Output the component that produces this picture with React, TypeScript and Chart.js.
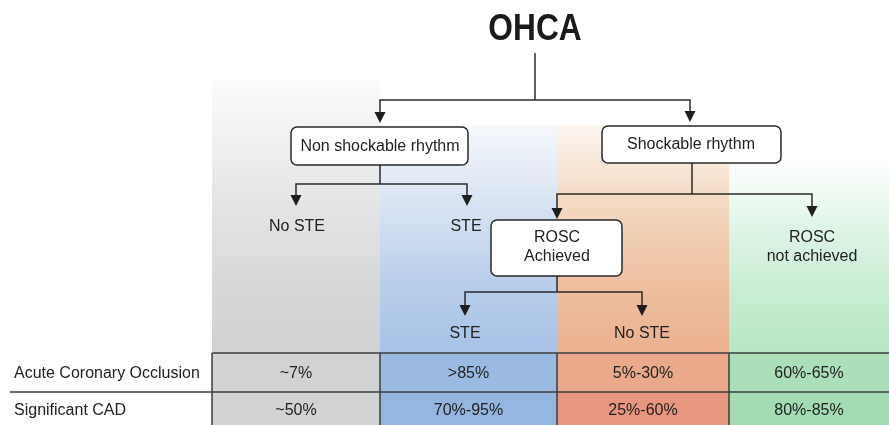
import React, { useEffect, useRef } from "react";
import { Chart, registerables } from "chart.js";
Chart.register(...registerables);

const title = "OHCA";
const rhythmLabels = ["Non shockable rhythm", "Shockable rhythm"];
const nonShockOutcomes = ["No STE", "STE"];
const shockOutcomes = ["ROSC\nAchieved", "ROSC\nnot achieved"];
const roscOutcomes = ["STE", "No STE"];
const rowLabels = ["Acute Coronary Occlusion", "Significant CAD"];
const acoValues = ["~7%", ">85%", "5%-30%", "60%-65%"];
const cadValues = ["~50%", "70%-95%", "25%-60%", "80%-85%"];

const FONT = "'Liberation Sans', Arial, Helvetica, sans-serif";
const INK = "#222222";
const FS = 16;

export default function App() {
  const ref = useRef<HTMLCanvasElement | null>(null);
  useEffect(() => {
    document.body.style.margin = "0";
    const canvas = ref.current!;
    const plugin = {
      id: "flow",
      beforeDatasetsDraw(chart: any) {
        const ctx: CanvasRenderingContext2D = chart.ctx;
        const xs = chart.scales.x;
        const ys = chart.scales.y;
        const X = (v: number) => xs.getPixelForValue(v);
        const Y = (v: number) => ys.getPixelForValue(v);

        const edges = [212, 380, 557, 729, 889];
        const cols = [
          { top: 80, stops: [[0, "#fbfbfb"], [0.45, "#e4e5e6"], [0.8, "#d4d5d7"], [1, "#d1d2d4"]], cells: ["#d1d2d4", "#d1d2d4"] },
          { top: 125, stops: [[0, "#f6f8fc"], [0.3, "#dce6f4"], [0.7, "#b9ceeb"], [1, "#a7c2e6"]], cells: ["#9bbae2", "#94b5e0"] },
          { top: 125, stops: [[0, "#fcf6f0"], [0.3, "#f4dcc6"], [0.7, "#eebf9f"], [1, "#ebb190"]], cells: ["#e9a98a", "#e8967f"] },
          { top: 158, stops: [[0, "#ffffff"], [0.35, "#e0f5e7"], [0.75, "#c3ebce"], [1, "#b7e6c4"]], cells: ["#aadfba", "#a3dcb3"] },
        ];
        const tableTop = 353, rowMid = 392, tableBottom = 425;
        cols.forEach((c, i) => {
          const x0 = X(edges[i]), x1 = X(edges[i + 1]);
          const g = ctx.createLinearGradient(0, Y(c.top), 0, Y(tableTop));
          c.stops.forEach((s) => g.addColorStop(s[0] as number, s[1] as string));
          ctx.fillStyle = g;
          ctx.fillRect(x0, Y(c.top), x1 - x0, Y(tableTop) - Y(c.top));
          ctx.fillStyle = c.cells[0];
          ctx.fillRect(x0, Y(tableTop), x1 - x0, Y(rowMid) - Y(tableTop));
          ctx.fillStyle = c.cells[1];
          ctx.fillRect(x0, Y(rowMid), x1 - x0, Y(tableBottom) - Y(rowMid));
        });

        ctx.strokeStyle = "#3c3c3c";
        ctx.lineWidth = 1.5;
        const line = (pts: number[][]) => {
          ctx.beginPath();
          ctx.moveTo(X(pts[0][0]), Y(pts[0][1]));
          for (let k = 1; k < pts.length; k++) ctx.lineTo(X(pts[k][0]), Y(pts[k][1]));
          ctx.stroke();
        };
        line([[212, tableTop], [889, tableTop]]);
        line([[10, rowMid], [889, rowMid]]);
        edges.slice(0, 4).forEach((e) => line([[e, tableTop], [e, tableBottom]]));

        const text = (s: string, x: number, y: number, size: number, align: CanvasTextAlign = "center") => {
          ctx.fillStyle = INK;
          ctx.font = `${size}px ${FONT}`;
          ctx.textAlign = align;
          ctx.textBaseline = "middle";
          ctx.fillText(s, X(x), Y(y));
        };

        rowLabels.forEach((l, r) => text(l, 14, r === 0 ? 374 : 411, FS, "left"));
        acoValues.forEach((v, i) => text(v, (edges[i] + edges[i + 1]) / 2, 374, FS));
        cadValues.forEach((v, i) => text(v, (edges[i] + edges[i + 1]) / 2, 411, FS));

        ctx.strokeStyle = "#2a2a2a";
        ctx.lineWidth = 1.5;
        const arrow = (x: number, tip: number) => {
          ctx.fillStyle = "#1e1e1e";
          ctx.beginPath();
          ctx.moveTo(X(x - 5.5), Y(tip - 11));
          ctx.lineTo(X(x + 5.5), Y(tip - 11));
          ctx.lineTo(X(x), Y(tip));
          ctx.closePath();
          ctx.fill();
        };
        const branch = (xc: number, y0: number, yh: number, xl: number, xr: number, tipL: number, tipR: number) => {
          line([[xc, y0], [xc, yh]]);
          line([[xl, tipL - 10], [xl, yh], [xr, yh], [xr, tipR - 10]]);
          arrow(xl, tipL);
          arrow(xr, tipR);
        };
        branch(535, 53, 100, 380, 690, 123, 122);
        branch(380, 165, 184, 296, 467, 206, 206);
        branch(692, 163, 194, 557, 812, 219, 217);
        branch(557, 276, 292, 465, 642, 316, 316);

        const box = (x0: number, y0: number, x1: number, y1: number) => {
          const r = 6;
          const a = X(x0), b = Y(y0), c = X(x1), d = Y(y1);
          ctx.beginPath();
          ctx.moveTo(a + r, b);
          ctx.arcTo(c, b, c, d, r);
          ctx.arcTo(c, d, a, d, r);
          ctx.arcTo(a, d, a, b, r);
          ctx.arcTo(a, b, c, b, r);
          ctx.closePath();
          ctx.fillStyle = "#ffffff";
          ctx.fill();
          ctx.strokeStyle = "#2a2a2a";
          ctx.lineWidth = 1.5;
          ctx.stroke();
        };
        box(291, 127, 468, 165);
        box(602, 126, 781, 163);
        box(491, 220, 622, 276);

        text(rhythmLabels[0], 380, 147, FS);
        text(rhythmLabels[1], 691, 145, FS);
        text(nonShockOutcomes[0], 297, 227, FS);
        text(nonShockOutcomes[1], 466, 227, FS);
        const s0 = shockOutcomes[0].split("\n");
        text(s0[0], 557, 238, FS);
        text(s0[1], 557, 257, FS);
        const s1 = shockOutcomes[1].split("\n");
        text(s1[0], 812, 238, FS);
        text(s1[1], 812, 257, FS);
        text(roscOutcomes[0], 465, 334, FS);
        text(roscOutcomes[1], 642, 334, FS);

        ctx.save();
        ctx.translate(X(535), Y(30));
        ctx.scale(0.88, 1);
        ctx.fillStyle = "#1a1a1a";
        ctx.font = `bold 36px ${FONT}`;
        ctx.textAlign = "center";
        ctx.textBaseline = "middle";
        ctx.fillText(title, 0, 0);
        ctx.restore();
      },
    };
    const chart = new Chart(canvas, {
      type: "scatter",
      data: { datasets: [{ data: [], pointRadius: 0 }] },
      options: {
        animation: false,
        responsive: false,
        maintainAspectRatio: false,
        layout: { padding: 0 },
        plugins: { legend: { display: false }, tooltip: { enabled: false } },
        scales: {
          x: { type: "linear", min: 0, max: 889, display: false },
          y: { type: "linear", min: 0, max: 425, reverse: true, display: false },
        },
      },
      plugins: [plugin],
    });
    return () => chart.destroy();
  }, []);
  return (
    <div style={{ width: 889, height: 425, background: "#fff" }}>
      <canvas ref={ref} width={889} height={425} style={{ display: "block" }} />
    </div>
  );
}
